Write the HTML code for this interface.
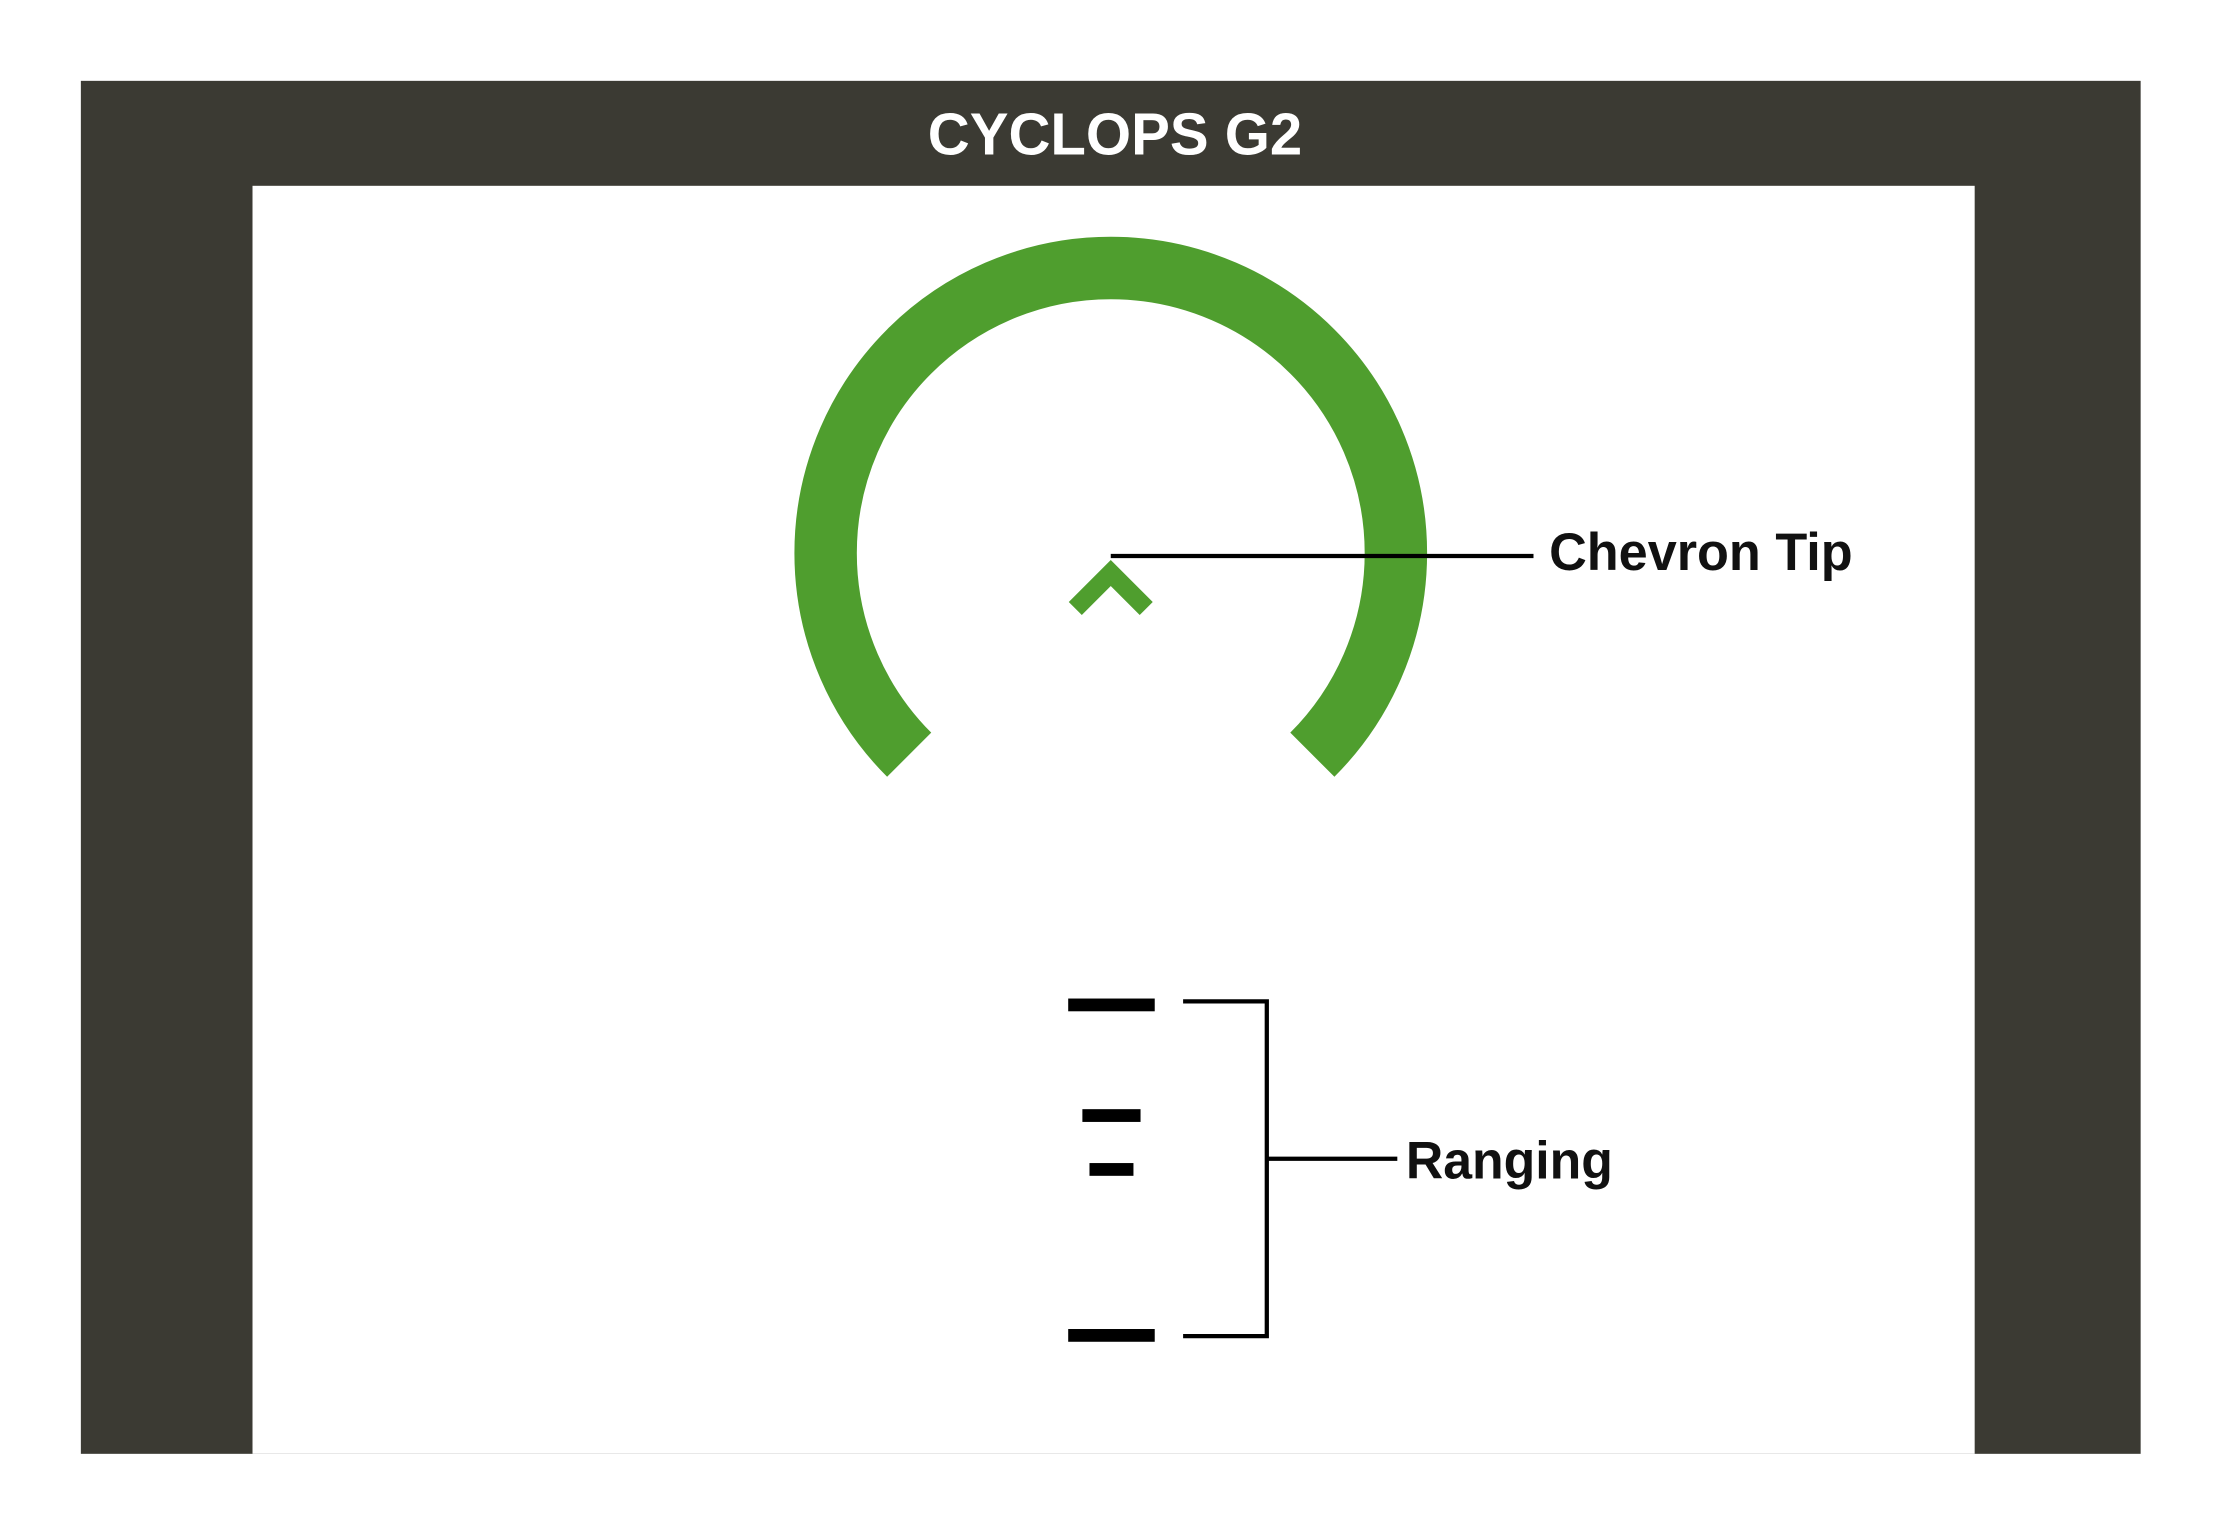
<!DOCTYPE html>
<html><head><style>html,body{margin:0;padding:0;background:#fff}svg{display:block}</style></head>
<body>
<svg width="2213" height="1529" viewBox="0 0 1560 1078" preserveAspectRatio="none" xmlns="http://www.w3.org/2000/svg">
<rect x="0" y="0" width="1560" height="1078" fill="#fff"/>
<rect x="57" y="57" width="1452" height="968" fill="#3b3a33"/>
<rect x="178" y="131" width="1214" height="894" fill="#fff"/>
<text x="654" y="109" textLength="264" lengthAdjust="spacingAndGlyphs" fill="#fff" font-family="Liberation Sans, sans-serif" font-weight="bold" font-size="42">CYCLOPS G2</text>
<path d="M 640.9 532.1 A 201 201 0 1 1 925.1 532.1" fill="none" stroke="#4f9e2e" stroke-width="44"/>
<polyline points="758,429 783,404 808,429" fill="none" stroke="#4f9e2e" stroke-width="13" stroke-linejoin="miter"/>
<line x1="783" y1="392" x2="1081" y2="392" stroke="#000" stroke-width="3"/>
<text x="1092" y="402" textLength="214" lengthAdjust="spacingAndGlyphs" fill="#111" font-family="Liberation Sans, sans-serif" font-weight="bold" font-size="37">Chevron Tip</text>
<g fill="#000">
<rect x="753" y="704" width="61" height="9"/>
<rect x="763" y="782" width="41" height="9"/>
<rect x="768" y="820" width="31" height="9"/>
<rect x="753" y="937" width="61" height="9"/>
</g>
<polyline points="834,706 893,706 893,942 834,942" fill="none" stroke="#000" stroke-width="3"/>
<line x1="893" y1="817" x2="985" y2="817" stroke="#000" stroke-width="3"/>
<text x="991" y="831" textLength="146" lengthAdjust="spacingAndGlyphs" fill="#111" font-family="Liberation Sans, sans-serif" font-weight="bold" font-size="37">Ranging</text>
</svg>
</body></html>
